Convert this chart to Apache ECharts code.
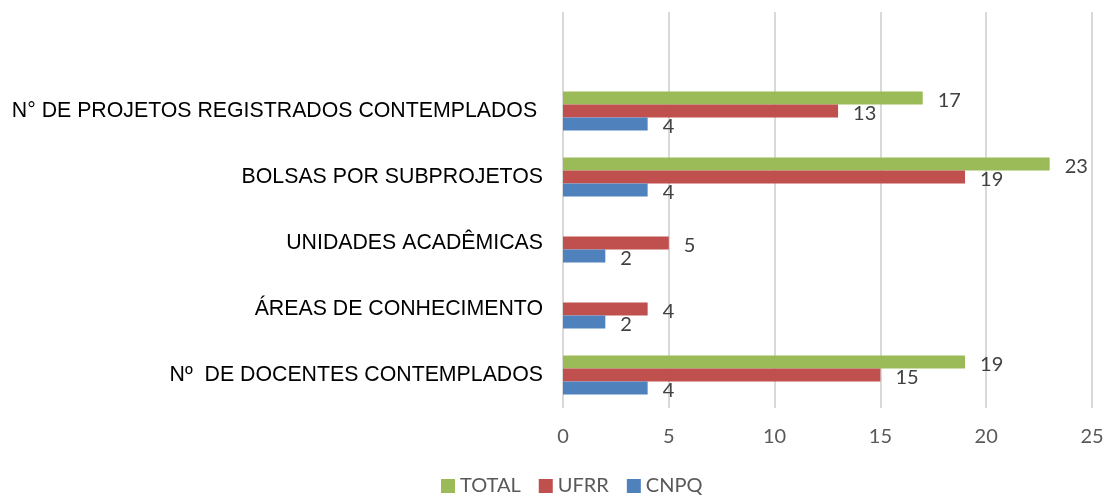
<!DOCTYPE html>
<html>
<head>
<meta charset="utf-8">
<script src="https://cdn.jsdelivr.net/npm/echarts@6/dist/echarts.min.js"></script>
<style>
  html, body { margin: 0; padding: 0; background: #fff; }
  #main { width: 1108px; height: 499px; }
</style>
</head>
<body>
<div id="main"></div>
<script>
// categories top to bottom (first row is an empty slot, as in the source sheet)
const categories = [
  '',
  'N° DE PROJETOS REGISTRADOS CONTEMPLADOS ',
  'BOLSAS POR SUBPROJETOS',
  'UNIDADES ACADÊMICAS',
  'ÁREAS DE CONHECIMENTO',
  'Nº  DE DOCENTES CONTEMPLADOS'
];
const total = [null, 17, 23, null, null, 19];
const ufrr = [null, 13, 19, 5, 4, 15];
const cnpq = [null, 4, 4, 2, 2, 4];

const xTicks = [0, 5, 10, 15, 20, 25];

var chartDom = document.getElementById('main');
var myChart = echarts.init(chartDom);
var option;

const valueLabel = {
  show: true,
  position: 'right',
  distance: 15,
  offset: [0, 3],
  color: '#404040',
  fontSize: 20,
  fontFamily: 'Lato'
};

option = {
  animation: false,
  textStyle: { fontFamily: 'Liberation Sans' },
  grid: {
    left: 563,
    right: 16,
    top: 12,
    bottom: 91
  },
  legend: {
    data: ['TOTAL', 'UFRR', 'CNPQ'],
    bottom: -2,
    left: 436,
    icon: 'rect',
    itemWidth: 14,
    itemHeight: 14,
    itemGap: 18,
    textStyle: { color: '#595959', fontSize: 20, fontFamily: 'Lato' }
  },
  xAxis: {
    type: 'value',
    min: xTicks[0],
    max: xTicks[xTicks.length - 1],
    interval: 5,
    axisLine: { show: false },
    axisTick: { show: false },
    splitLine: { lineStyle: { color: '#d9d9d9', width: 2 } },
    axisLabel: { color: '#595959', fontSize: 20, fontFamily: 'Lato', margin: 19 }
  },
  yAxis: {
    type: 'category',
    inverse: true,
    data: categories,
    axisLine: { show: false },
    axisTick: { show: false },
    axisLabel: { color: '#000', fontSize: 21.3, fontFamily: 'Liberation Sans', margin: 20 }
  },
  series: [
    { name: 'TOTAL', type: 'bar', data: total, barWidth: 13, barGap: '0%',
      itemStyle: { color: '#9bbb59' }, label: valueLabel },
    { name: 'UFRR', type: 'bar', data: ufrr, barWidth: 13, barGap: '0%',
      itemStyle: { color: '#c0504d' }, label: valueLabel },
    { name: 'CNPQ', type: 'bar', data: cnpq, barWidth: 13, barGap: '0%',
      itemStyle: { color: '#4f81bd' }, label: valueLabel }
  ]
};

option && myChart.setOption(option);
</script>
</body>
</html>
